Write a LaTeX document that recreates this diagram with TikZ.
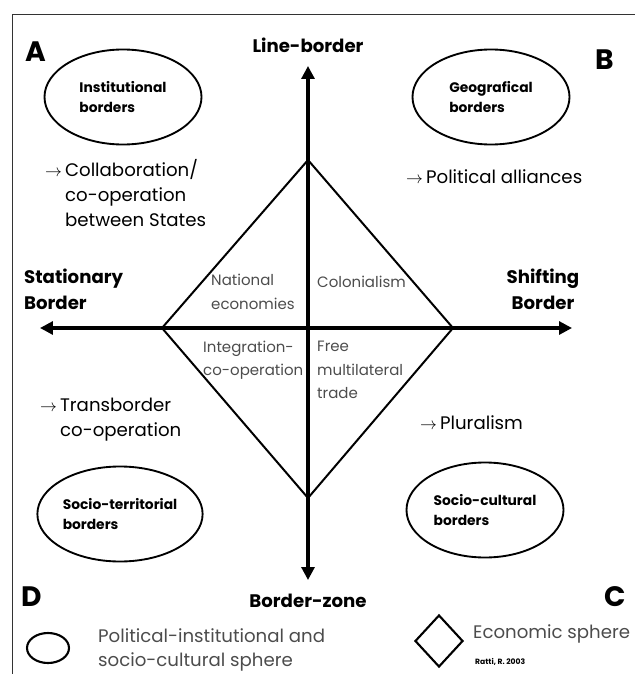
\documentclass[tikz,border=0pt]{standalone}
\usepackage{fontspec}
\setmainfont{Poppins}
\usetikzlibrary{arrows.meta,shapes.geometric}

\newcommand{\arr}{$\rightarrow$\,}
\newcommand{\ind}{\hphantom{\arr}}

\begin{document}
\begin{tikzpicture}[x=0.03cm,y=-0.03cm,
   axis/.style={line width=2.6pt,-{Triangle[length=11pt,width=11pt]}},
   sphere/.style={ellipse,draw,line width=1.6pt,minimum width=4.71cm,minimum height=2.85cm,
      align=left,inner sep=1pt,font=\fontsize{11.8}{17}\selectfont\bfseries},
   pole/.style={font=\fontsize{15.5}{22}\selectfont\bfseries},
   corner/.style={font=\fontsize{24}{24}\selectfont\bfseries},
   effect/.style={anchor=west,align=left,inner sep=0pt,font=\fontsize{15.5}{21.5}\selectfont},
   sector/.style={anchor=west,align=left,inner sep=0pt,text=black!70,font=\fontsize{12.8}{20}\selectfont},
   legend/.style={anchor=west,align=left,inner sep=0pt,text=black!70,font=\fontsize{15.5}{20}\selectfont}]
   \useasboundingbox (0,0) rectangle (635,674);
   % frame
   \draw [line width=0.8pt,black!80] (12,674) -- (12,14) -- (635,14);
   % define coordinates for the axes and the diamond
   \coordinate (O) at (308,328);
   \coordinate (up) at (308,66);
   \coordinate (down) at (308,580);
   \coordinate (left) at (40,328);
   \coordinate (right) at (572,328);
   \coordinate (dT) at (308,160);
   \coordinate (dB) at (308,498);
   \coordinate (dL) at (162,328);
   \coordinate (dR) at (453,328);
   % draw the diamond
   \draw [line width=1.7pt,line join=miter] (dT) -- (dR) -- (dB) -- (dL) -- cycle;
   % draw the axes
   \draw [axis] (O) -- (up);
   \draw [axis] (O) -- (down);
   \draw [axis] (O) -- (left);
   \draw [axis] (O) -- (right);
   % axis labels
   \node [pole] (lineb) at (308,45) {Line-border};
   \node [pole] (zone) at (308,601) {Border-zone};
   \node [pole,anchor=west,align=left] (stat) at (20,289) {Stationary\\Border};
   \node [pole,align=center] (shift) at (543,289) {Shifting\\Border};
   % quadrant letters
   \node [corner] (qA) at (36,52) {A};
   \node [corner] (qB) at (605,60) {B};
   \node [corner] (qC) at (615,597) {C};
   \node [corner] (qD) at (32,597) {D};
   % the four kinds of borders
   \node [sphere] (inst) at (123,97) {Institutional\\borders};
   \node [sphere] (geo) at (491,97) {Geografical\\borders};
   \node [sphere,minimum width=4.8cm] (terr) at (120,514) {Socio-territorial\\borders};
   \node [sphere] (cult) at (485,510) {Socio-cultural\\borders};
   % what each kind leads to
   \node [effect] (collab) at (45,193) {\arr Collaboration/\\\ind co-operation\\\ind between States};
   \node [effect] (alli) at (406,177) {\arr Political alliances};
   \node [effect] (trans) at (40,420) {\arr Transborder\\\ind co-operation};
   \node [effect] (plur) at (420,423) {\arr Pluralism};
   % economic sectors inside the diamond
   \node [sector] (natl) at (211,292) {National\\economies};
   \node [sector] (colon) at (317,282) {Colonialism};
   \node [sector] (integ) at (203,360) {Integration-\\co-operation};
   \node [sector] (free) at (317,370) {Free\\multilateral\\trade};
   % legend
   \node [ellipse,draw,line width=1.8pt,minimum width=1.26cm,minimum height=0.9cm] (keyE) at (48,648) {};
   \node [legend] (keyEt) at (98,650) {Political-institutional and\\socio-cultural sphere};
   \node [diamond,draw,line width=1.8pt,minimum width=1.44cm,minimum height=1.56cm] (keyD) at (439,641) {};
   \node [legend] (keyDt) at (473,634) {Economic sphere};
   \node [anchor=west,inner sep=0pt,font=\fontsize{6.5}{8}\selectfont\bfseries] (src) at (475,662) {Ratti, R. 2003};
\end{tikzpicture}
\end{document}
